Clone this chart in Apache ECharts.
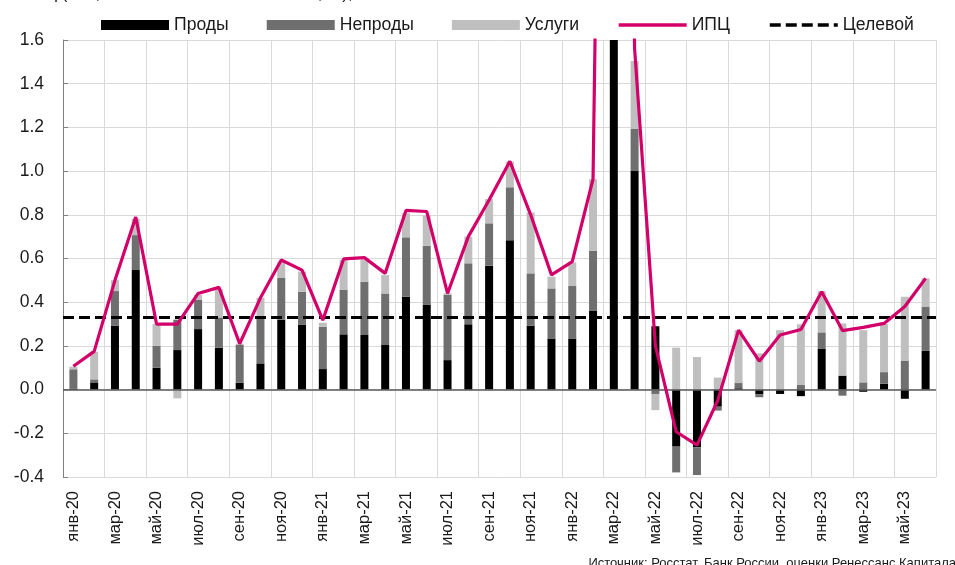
<!DOCTYPE html>
<html>
<head>
<meta charset="utf-8">
<script src="https://cdn.jsdelivr.net/npm/echarts@6/dist/echarts.min.js"></script>
<style>
  html, body { margin: 0; padding: 0; background: #fff; }
  #chart { width: 955px; height: 565px; }
</style>
</head>
<body>
<div id="chart"></div>
<script>
  // месяцы янв-20 .. июн-23
  var months = [
    'янв-20', 'фев-20', 'мар-20', 'апр-20', 'май-20', 'июн-20', 'июл-20', 'авг-20', 'сен-20', 'окт-20', 'ноя-20', 'дек-20',
    'янв-21', 'фев-21', 'мар-21', 'апр-21', 'май-21', 'июн-21', 'июл-21', 'авг-21', 'сен-21', 'окт-21', 'ноя-21', 'дек-21',
    'янв-22', 'фев-22', 'мар-22', 'апр-22', 'май-22', 'июн-22', 'июл-22', 'авг-22', 'сен-22', 'окт-22', 'ноя-22', 'дек-22',
    'янв-23', 'фев-23', 'мар-23', 'апр-23', 'май-23', 'июн-23'
  ]

  // вклады, п.п.
  var prody = [
    0.005, 0.033, 0.293, 0.547, 0.10, 0.181, 0.277, 0.192, 0.032, 0.12, 0.32, 0.296,
    0.094, 0.253, 0.25, 0.204, 0.425, 0.39, 0.135, 0.299, 0.567, 0.684, 0.293, 0.234,
    0.234, 0.36, 3.3, 1.0, 0.29, -0.261, -0.264, -0.078, 0.006, -0.022, -0.02, -0.03,
    0.186, 0.064, -0.01, 0.027, -0.042, 0.177
  ]
  var neprody = [
    0.088, 0.014, 0.158, 0.16, 0.10, 0.139, 0.133, 0.138, 0.172, 0.21, 0.191, 0.152,
    0.194, 0.203, 0.244, 0.236, 0.272, 0.268, 0.298, 0.279, 0.194, 0.242, 0.239, 0.229,
    0.24, 0.276, 3.3, 0.193, -0.02, -0.118, -0.127, -0.018, 0.024, -0.013, 0, 0.021,
    0.076, -0.028, 0.033, 0.053, 0.131, 0.201
  ]
  var uslugi = [
    0.012, 0.126, 0.05, 0.075, 0.10, -0.04, 0.023, 0.13, 0.006, 0.09, 0.074, 0.092,
    0.018, 0.137, 0.099, 0.084, 0.11, 0.14, 0.007, 0.122, 0.111, 0.117, 0.279, 0.054,
    0.108, 0.327, 1.0, 0.311, -0.074, 0.192, 0.149, 0.055, 0.242, 0.166, 0.272, 0.278,
    0.189, 0.239, 0.239, 0.22, 0.294, 0.131
  ]
  var cpi = [
    0.107, 0.175, 0.50, 0.79, 0.30, 0.30, 0.44, 0.468, 0.21, 0.42, 0.593, 0.547,
    0.318, 0.598, 0.604, 0.532, 0.82, 0.815, 0.44, 0.70, 0.868, 1.045, 0.80, 0.525,
    0.586, 0.963, 7.6, 1.56, 0.20, -0.193, -0.254, -0.05, 0.272, 0.13, 0.25, 0.275,
    0.448, 0.27, 0.285, 0.303, 0.38, 0.509
  ]
  // цель 4% г/г в пересчете на месяц
  var target = 0.327

  var yTicks = { min: -0.4, max: 1.6, step: 0.2 }

  var font = 'Liberation Sans, Arial, sans-serif'
  var textColor = '#1a1a1a'

  var chart = echarts.init(document.getElementById('chart'))

  var barBase = {
    type: 'bar',
    stack: 'total',
    barWidth: 8
  }

  // у линий в легенде без кружка
  var noDot = { opacity: 0 }

  chart.setOption({
    animation: false,
    textStyle: { fontFamily: font, color: textColor },
    legend: {
      left: 96,
      top: 11,
      itemWidth: 68,
      itemHeight: 10,
      itemGap: 38,
      textStyle: { fontSize: 17.6, color: textColor, fontFamily: font },
      data: [
        { name: 'Проды', icon: 'rect' },
        { name: 'Непроды', icon: 'rect' },
        { name: 'Услуги', icon: 'rect' },
        { name: 'ИПЦ', itemStyle: noDot, lineStyle: { width: 3.5 } },
        { name: 'Целевой', itemStyle: noDot, lineStyle: { width: 3.5 } }
      ]
    },
    grid: {
      left: 63,
      right: 19,
      top: 40,
      bottom: 88
    },
    xAxis: {
      type: 'category',
      data: months,
      boundaryGap: true,
      axisLine: { show: false },
      axisTick: { show: false, interval: 1 },
      axisLabel: {
        interval: 1,
        rotate: 90,
        margin: 14,
        fontSize: 16.5,
        color: textColor,
        fontFamily: font
      },
      splitLine: {
        show: true,
        interval: 1,
        lineStyle: { color: '#d9d9d9', width: 1 }
      }
    },
    yAxis: {
      type: 'value',
      min: yTicks.min,
      max: yTicks.max,
      interval: yTicks.step,
      axisLine: { show: true, lineStyle: { color: '#808080', width: 1 } },
      axisTick: { show: true, inside: true, length: 5, lineStyle: { color: '#808080' } },
      axisLabel: {
        margin: 19,
        fontSize: 17.5,
        color: textColor,
        fontFamily: font,
        formatter: function (v) { return v.toFixed(1) }
      },
      splitLine: { show: true, lineStyle: { color: '#d9d9d9', width: 1 } }
    },
    series: [
      Object.assign({}, barBase, {
        name: 'Проды',
        data: prody,
        itemStyle: { color: '#000000' },
        markLine: {
          silent: true,
          symbol: 'none',
          label: { show: false },
          lineStyle: { color: '#595959', width: 1.5, type: 'solid' },
          data: [{ yAxis: 0 }]
        }
      }),
      Object.assign({}, barBase, {
        name: 'Непроды',
        data: neprody,
        itemStyle: { color: '#6f6f6f' }
      }),
      Object.assign({}, barBase, {
        name: 'Услуги',
        data: uslugi,
        itemStyle: { color: '#bfbfbf' }
      }),
      {
        name: 'ИПЦ',
        type: 'line',
        data: cpi,
        symbol: 'none',
        z: 5,
        lineStyle: { color: '#d4006a', width: 3.2 },
        itemStyle: { color: '#d4006a' }
      },
      {
        name: 'Целевой',
        type: 'line',
        data: [],
        symbol: 'none',
        z: 4,
        lineStyle: { color: '#000000', width: 3, type: [11, 5] },
        itemStyle: { color: '#000000' },
        markLine: {
          silent: true,
          symbol: 'none',
          label: { show: false },
          lineStyle: { color: '#000000', width: 3, type: [11, 5] },
          data: [{ yAxis: target }]
        }
      }
    ],
    graphic: [
      {
        type: 'text',
        left: 20,
        top: -14,
        style: {
          text: 'ИПЦ (м/м, с исключением сезонности, %),',
          fontSize: 17,
          fontFamily: font,
          fill: textColor
        }
      },
      {
        type: 'text',
        right: -1,
        top: 557,
        style: {
          text: 'Источник: Росстат, Банк России, оценки Ренессанс Капитала',
          fontSize: 13,
          fontFamily: font,
          fill: textColor
        }
      }
    ]
  })
</script>
</body>
</html>
